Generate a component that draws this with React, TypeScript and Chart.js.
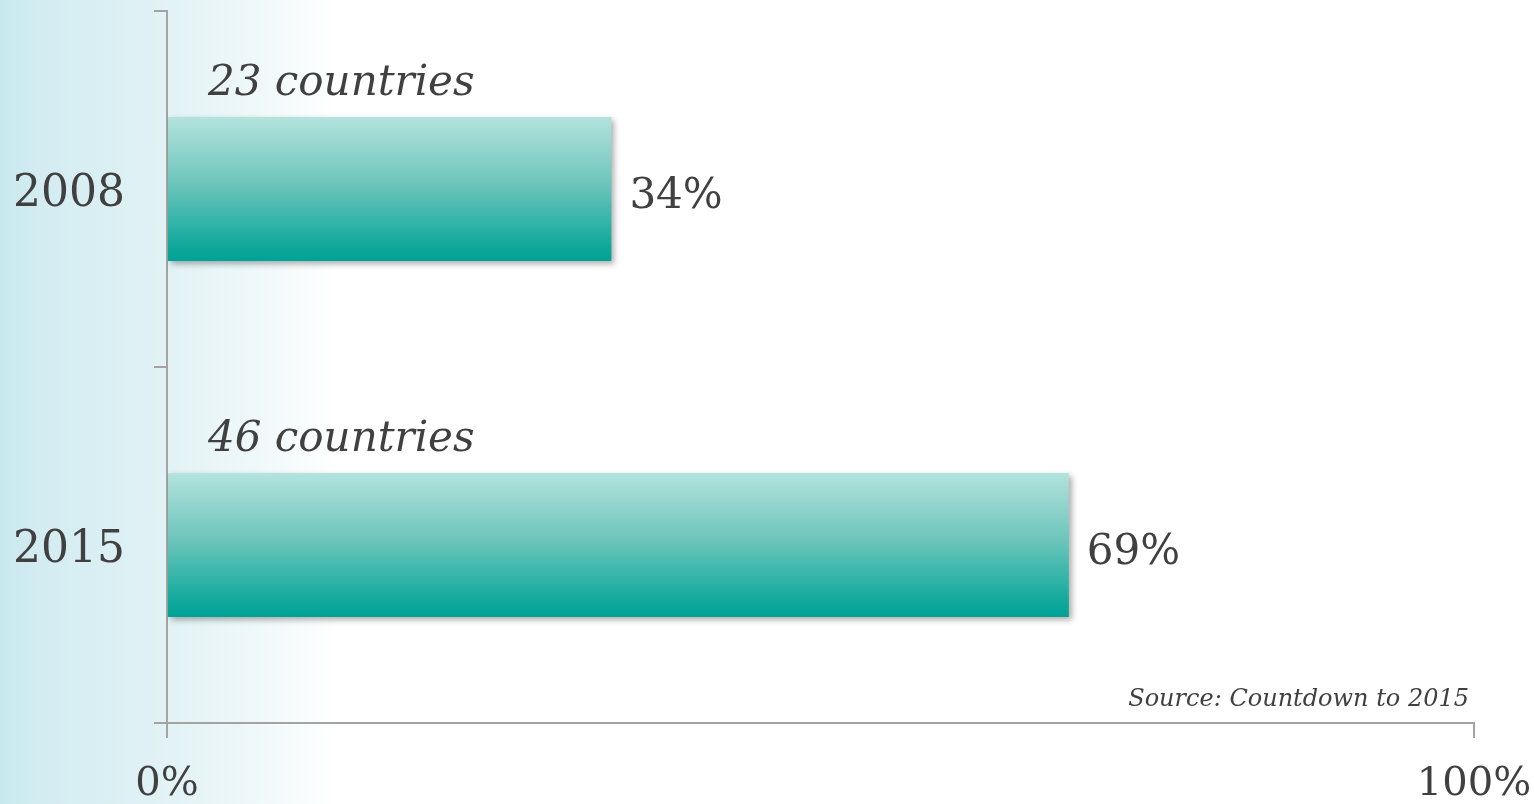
import React, { useEffect, useRef } from "react";
import { Chart, registerables } from "chart.js";
Chart.register(...registerables);

const categories = ["2008", "2015"];
const values = [34, 69];
const countryLabels = ["23 countries", "46 countries"];
const xTickValues = [0, 100];
const sourceText = "Source: Countdown to 2015";

const FONT = "'DejaVu Serif', 'Liberation Serif', serif";
const TEXT = "#404040";
const AXIS = "#a3a3a3";

export default function App() {
  const ref = useRef<HTMLCanvasElement>(null);

  useEffect(() => {
    document.body.style.margin = "0";
    const canvas = ref.current!;

    const bgPlugin = {
      id: "bg",
      beforeDraw(chart: any) {
        const { ctx, width, height } = chart;
        const g = ctx.createLinearGradient(0, 0, 335, 0);
        g.addColorStop(0, "#c8e8ee");
        g.addColorStop(0.1, "#d2ecf1");
        g.addColorStop(0.5, "#e2f2f5");
        g.addColorStop(0.8, "#f1f9fa");
        g.addColorStop(1, "#ffffff");
        ctx.save();
        ctx.fillStyle = g;
        ctx.fillRect(0, 0, width, height);
        ctx.restore();
      },
    };

    const shadowPlugin = {
      id: "barShadow",
      beforeDatasetDraw(chart: any) {
        const ctx = chart.ctx;
        ctx.save();
        ctx.shadowColor = "rgba(0,0,0,0.32)";
        ctx.shadowBlur = 6;
        ctx.shadowOffsetX = 3;
        ctx.shadowOffsetY = 3;
      },
      afterDatasetDraw(chart: any) {
        chart.ctx.restore();
      },
    };

    const labelPlugin = {
      id: "labels",
      afterDatasetsDraw(chart: any) {
        const ctx = chart.ctx;
        const meta = chart.getDatasetMeta(0);
        ctx.save();
        ctx.fillStyle = TEXT;
        meta.data.forEach((bar: any, i: number) => {
          const top = bar.y - bar.height / 2;
          ctx.font = `italic 42px ${FONT}`;
          ctx.textAlign = "left";
          ctx.textBaseline = "alphabetic";
          ctx.fillText(countryLabels[i], bar.base + 40, top - 22);
          ctx.font = `42px ${FONT}`;
          ctx.textBaseline = "middle";
          ctx.fillText(values[i] + "%", bar.x + 18, bar.y + 8);
        });
        ctx.font = `italic 24px ${FONT}`;
        ctx.textAlign = "right";
        ctx.textBaseline = "middle";
        ctx.fillText(sourceText, chart.chartArea.right - 5, chart.chartArea.bottom - 23);
        ctx.restore();
      },
    };

    const chart = new Chart(canvas, {
      type: "bar",
      data: {
        labels: categories,
        datasets: [
          {
            data: values,
            barPercentage: 0.405,
            categoryPercentage: 1,
            borderWidth: 0,
            backgroundColor: (c: any) => {
              const ch = c.chart;
              const ys = ch.scales && ch.scales.y;
              if (!ch.chartArea || !ys || c.dataIndex === undefined) return "#4db8ac";
              const center = ys.getPixelForValue(c.dataIndex);
              const half = ((ys.bottom - ys.top) / categories.length) * 0.405 / 2;
              const g = ch.ctx.createLinearGradient(0, center - half, 0, center + half);
              g.addColorStop(0, "#b3e3dd");
              g.addColorStop(0.45, "#6fc6bc");
              g.addColorStop(0.9, "#0fa89b");
              g.addColorStop(1, "#00a296");
              return g;
            },
          },
        ],
      },
      options: {
        indexAxis: "y",
        responsive: false,
        devicePixelRatio: 1,
        animation: false,
        layout: { padding: { top: 11, right: 60, left: 0, bottom: 0 } },
        plugins: {
          legend: { display: false },
          tooltip: { enabled: false },
        },
        scales: {
          x: {
            type: "linear",
            min: 0,
            max: 100,
            afterBuildTicks: (s: any) => {
              s.ticks = xTickValues.map((v) => ({ value: v }));
            },
            afterFit: (s: any) => {
              s.height = 81;
              s.paddingLeft = 0;
              s.paddingRight = 0;
            },
            ticks: {
              callback: (v: any) => v + "%",
              font: { family: FONT, size: 40 },
              color: TEXT,
              padding: 23,
              maxRotation: 0,
              autoSkip: false,
            },
            grid: {
              drawOnChartArea: false,
              drawTicks: true,
              tickLength: 15,
              color: AXIS,
              lineWidth: 2,
            },
            border: { display: true, color: AXIS, width: 2 },
          },
          y: {
            type: "category",
            afterFit: (s: any) => {
              s.width = 167;
              s.paddingTop = 0;
              s.paddingBottom = 0;
            },
            ticks: {
              font: { family: FONT, size: 44 },
              color: TEXT,
              padding: 29,
              labelOffset: 6,
            },
            grid: {
              offset: true,
              drawOnChartArea: false,
              drawTicks: true,
              tickLength: 13,
              color: AXIS,
              lineWidth: 2,
            },
            border: { display: true, color: AXIS, width: 2 },
          },
        },
      },
      plugins: [bgPlugin, shadowPlugin, labelPlugin],
    } as any);

    return () => chart.destroy();
  }, []);

  return (
    <div style={{ position: "absolute", left: 0, top: 0, width: 1534, height: 804 }}>
      <canvas ref={ref} width={1534} height={804} style={{ display: "block", width: 1534, height: 804 }} />
    </div>
  );
}
